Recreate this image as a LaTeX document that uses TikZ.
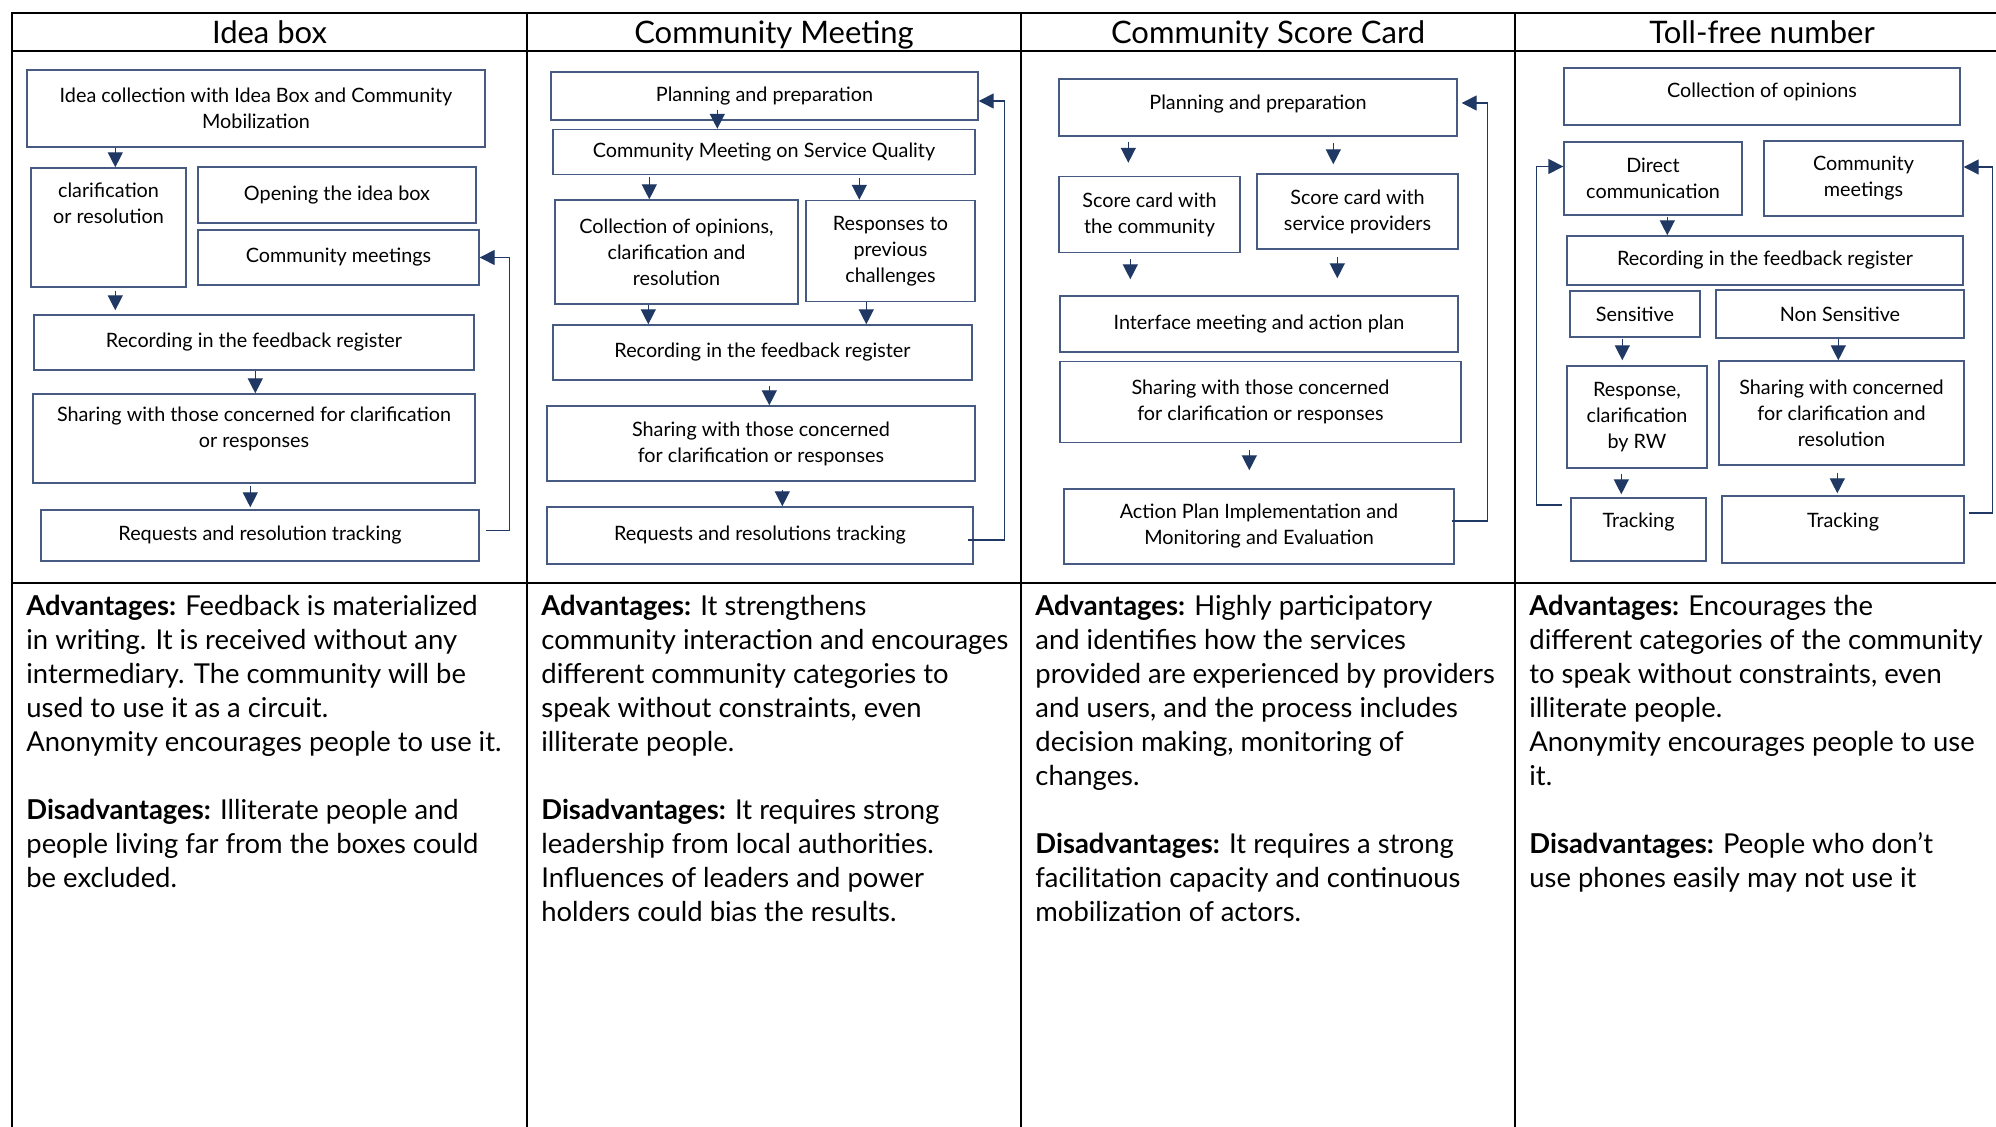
\documentclass[tikz,border=0pt]{standalone}
\usepackage{fontspec}
\setmainfont{Lato}
\usetikzlibrary{arrows.meta}
\definecolor{boxline}{RGB}{70,90,130}
\definecolor{arrowblue}{RGB}{31,56,100}
\begin{document}
\begin{tikzpicture}[x=0.5pt, y=-0.5pt,
	box/.style = {draw=boxline, line width=0.7pt, align=center, inner sep=0pt,
		font=\fontsize{9.9}{13}\selectfont},
	arr/.style = {draw=arrowblue, line width=0.7pt, -{Triangle[length=7.5pt, width=7.5pt]}},
	rule/.style = {draw=black, line width=1.1pt},
	head/.style = {anchor=base, font=\fontsize{15.5}{19}\selectfont},
	body/.style = {anchor=north west, align=left, inner sep=0pt,
		font=\fontsize{13.7}{17}\selectfont},
	raised/.style = {text height=7pt, text depth=#1}]

	\useasboundingbox (0,0) rectangle (1996,1127);
	\clip (0,0) rectangle (1996,1127);

	\draw[rule] (12,1140) -- (12,13) -- (2010,13);
	\draw[rule] (12,51) -- (2010,51);
	\draw[rule] (12,583) -- (2010,583);
	\foreach \x in {527,1021,1515}
		\draw[rule] (\x,13) -- (\x,1140);

	\node[head] (h1) at (269.5,44) {Idea box};
	\node[head] (h2) at (774,44) {Community Meeting};
	\node[head] (h3) at (1268,44) {Community Score Card};
	\node[head] (h4) at (1762,44) {Toll-free number};

	\node[box, minimum width=229pt, minimum height=38.5pt] (ib1) at (256,108.5)
		{Idea collection with Idea Box and Community\\Mobilization};
	\node[box, minimum width=77.5pt, minimum height=59.5pt] (ib2) at (108.5,227.5)
		{clarification\\or resolution\\[11.5pt]\mbox{}};
	\node[box, minimum width=139pt, minimum height=28pt] (ib3) at (337,195) {Opening the idea box};
	\node[box, minimum width=140.5pt, minimum height=27.5pt] (ib4) at (338.5,257.5) {Community meetings};
	\node[box, minimum width=220pt, minimum height=27.5pt] (ib5) at (254,342.5) {Recording in the feedback register};
	\node[box, minimum width=221pt, minimum height=44.5pt] (ib6) at (254,438.5)
		{Sharing with those concerned for clarification\\or responses\\[-2pt]\mbox{}};
	\node[box, minimum width=219pt, minimum height=25.5pt] (ib7) at (260,535.5) {Requests and resolution tracking};

	\draw[arr] ([shift={(89,0)}]ib1.south west) -- ([shift={(85,0)}]ib2.north west);
	\draw[arr] ([shift={(85,3)}]ib2.south west) -- ([shift={(82,-4)}]ib5.north west);
	\draw[arr] ([shift={(222,0)}]ib5.south west) -- ([shift={(223,0)}]ib6.north west);
	\draw[arr] ([shift={(218,2)}]ib6.south west) -- ([shift={(210,-2)}]ib7.north west);
	\draw[arr] ([shift={(6,-5)}]ib7.east) -- ++(24,0) |- (ib4.east);

	\node[box, minimum width=213.5pt, minimum height=24pt] (cm1) at (764.5,96) {Planning and preparation};
	\node[box, minimum width=211pt, minimum height=22.5pt] (cm2) at (764,152) {Community Meeting on Service Quality};
	\node[box, minimum width=121.5pt, minimum height=52pt] (cm3) at (676.5,252)
		{Collection of opinions,\\clarification and\\resolution};
	\node[box, minimum width=84.5pt, minimum height=50.5pt] (cm4) at (890.5,251)
		{Responses to\\previous\\challenges};
	\node[box, minimum width=209.5pt, minimum height=27.5pt] (cm5) at (762.5,352.5) {Recording in the feedback register};
	\node[box, minimum width=214pt, minimum height=37.5pt] (cm6) at (761,443.5)
		{Sharing with those concerned\\for clarification or responses};
	\node[box, minimum width=213pt, minimum height=28.5pt] (cm7) at (760,535.5) {Requests and resolutions tracking};

	\draw[arr] ([shift={(167,-11)}]cm1.south west) -- ([shift={(165,0)}]cm2.north west);
	\draw[arr] ([shift={(97,2)}]cm2.south west) -- ([shift={(95,0)}]cm3.north west);
	\draw[arr] ([shift={(307,3)}]cm2.south west) -- ([shift={(54,0)}]cm4.north west);
	\draw[arr] ([shift={(94,0)}]cm3.south west) -- ([shift={(96,0)}]cm5.north west);
	\draw[arr] ([shift={(61,0)}]cm4.south west) -- ([shift={(314,0)}]cm5.north west);
	\draw[arr] ([shift={(217,5)}]cm5.south west) -- ([shift={(223,0)}]cm6.north west);
	\draw[arr] ([shift={(236,8)}]cm6.south west) -- ([shift={(236,0)}]cm7.north west);
	\draw[arr] ([shift={(-6,4.5)}]cm7.east) -- ++(37,0) |- ([shift={(0,5)}]cm1.east);

	\node[box, raised=5pt, minimum width=199pt, minimum height=28.5pt] (sc1) at (1258,107.5) {Planning and preparation};
	\node[box, minimum width=90.5pt, minimum height=38pt] (sc2) at (1149.5,214.5) {Score card with\\the community};
	\node[box, minimum width=100.5pt, minimum height=37.5pt] (sc3) at (1357.5,211.5) {Score card with\\service providers};
	\node[box, minimum width=199pt, minimum height=28pt] (sc4) at (1259,324) {Interface meeting and action plan};
	\node[box, minimum width=200.5pt, minimum height=40.5pt] (sc5) at (1260.5,402)
		{Sharing with those concerned\\for clarification or responses};
	\node[box, minimum width=195pt, minimum height=37.5pt] (sc6) at (1259,526.5)
		{Action Plan Implementation and\\Monitoring and Evaluation};

	\draw[arr] ([shift={(70,5)}]sc1.south west) -- ([shift={(70,-13)}]sc2.north west);
	\draw[arr] ([shift={(275,6)}]sc1.south west) -- ([shift={(77,-9)}]sc3.north west);
	\draw[arr] ([shift={(72,6)}]sc2.south west) -- ([shift={(71,-16)}]sc4.north west);
	\draw[arr] ([shift={(81,7)}]sc3.south west) -- ([shift={(278,-17)}]sc4.north west);
	\draw[arr] ([shift={(190,7)}]sc5.south west) -- ([shift={(186,-18)}]sc6.north west);
	\draw[arr] ([shift={(-3,-5.5)}]sc6.east) -- ++(36,0) |- ([shift={(4,-4.5)}]sc1.east);

	\node[box, raised=6pt, minimum width=198pt, minimum height=28.5pt] (tf1) at (1762,96.5) {Collection of opinions};
	\node[box, minimum width=89pt, minimum height=36.5pt] (tf2) at (1653,178.5) {Direct\\communication};
	\node[box, minimum width=99.5pt, minimum height=37.5pt] (tf3) at (1863.5,178.5) {Community\\meetings};
	\node[box, minimum width=198pt, minimum height=24.5pt] (tf4) at (1765,260.5) {Recording in the feedback register};
	\node[box, minimum width=65pt, minimum height=23pt] (tf5) at (1635,314) {Sensitive};
	\node[box, minimum width=124pt, minimum height=24pt] (tf6) at (1840,314) {Non Sensitive};
	\node[box, minimum width=70pt, minimum height=51pt] (tf7) at (1637,417) {Response,\\clarification\\by RW};
	\node[box, minimum width=122.5pt, minimum height=52pt] (tf8) at (1841.5,413)
		{Sharing with concerned\\for clarification and\\resolution};
	\node[box, raised=8.5pt, minimum width=67.5pt, minimum height=31.5pt] (tf9) at (1638.5,529.5) {Tracking};
	\node[box, raised=8.5pt, minimum width=121pt, minimum height=33.5pt] (tf10) at (1843,529.5) {Tracking};

	\draw[arr] ([shift={(104,1)}]tf2.south west) -- ([shift={(101,0)}]tf4.north west);
	\draw[arr] ([shift={(53,1)}]tf5.south west) -- ([shift={(56,-5)}]tf7.north west);
	\draw[arr] ([shift={(123,0)}]tf6.south west) -- ([shift={(120,0)}]tf8.north west);
	\draw[arr] ([shift={(55,5)}]tf7.south west) -- ([shift={(51,-3)}]tf9.north west);
	\draw[arr] ([shift={(119,7)}]tf8.south west) -- ([shift={(116,-2)}]tf10.north west);
	\draw[arr] ([shift={(-8,-24.5)}]tf9.west) -- ++(-26,0) |- ([shift={(0,-12)}]tf2.west);
	\draw[arr] ([shift={(4,-16.5)}]tf10.east) -- ++(24,0) |- ([shift={(0,-11.5)}]tf3.east);

	\node[body] (t1) at (26,595) {\textbf{Advantages:} Feedback is materialized\\
		in writing. It is received without any\\
		intermediary. The community will be\\
		used to use it as a circuit.\\
		Anonymity encourages people to use it.\\[17pt]
		\textbf{Disadvantages:} Illiterate people and\\
		people living far from the boxes could\\
		be excluded.};
	\node[body] (t2) at (541,595) {\textbf{Advantages:} It strengthens\\
		community interaction and encourages\\
		different community categories to\\
		speak without constraints, even\\
		illiterate people.\\[17pt]
		\textbf{Disadvantages:} It requires strong\\
		leadership from local authorities.\\
		Influences of leaders and power\\
		holders could bias the results.};
	\node[body] (t3) at (1035,595) {\textbf{Advantages:} Highly participatory\\
		and identifies how the services\\
		provided are experienced by providers\\
		and users, and the process includes\\
		decision making, monitoring of\\
		changes.\\[17pt]
		\textbf{Disadvantages:} It requires a strong\\
		facilitation capacity and continuous\\
		mobilization of actors.};
	\node[body] (t4) at (1529,595) {\textbf{Advantages:} Encourages the\\
		different categories of the community\\
		to speak without constraints, even\\
		illiterate people.\\
		Anonymity encourages people to use\\
		it.\\[17pt]
		\textbf{Disadvantages:} People who don't\\
		use phones easily may not use it};
\end{tikzpicture}
\end{document}
